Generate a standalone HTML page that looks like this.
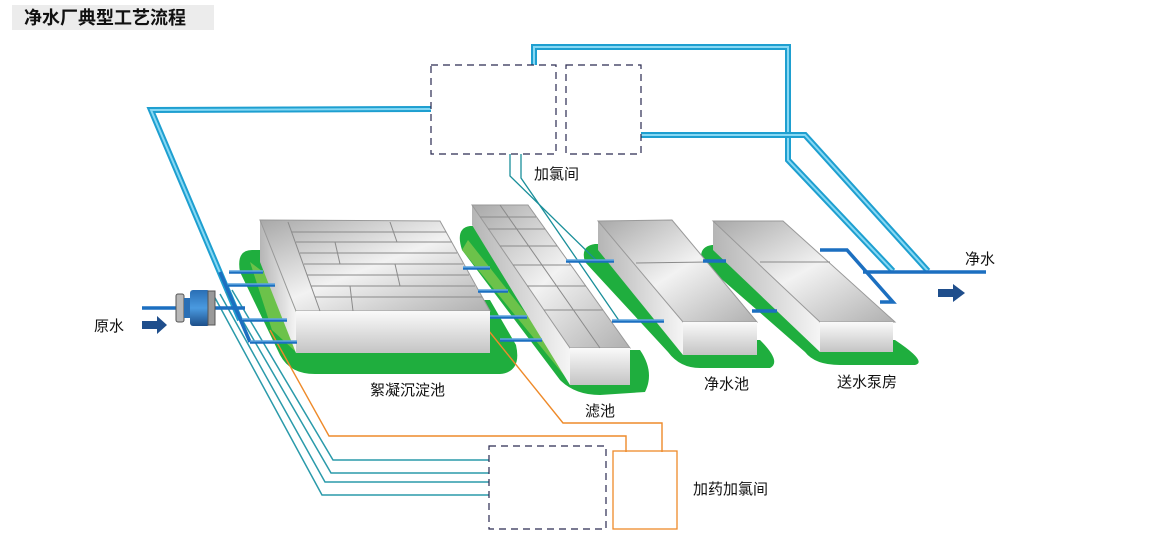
<!DOCTYPE html>
<html><head><meta charset="utf-8"><style>
html,body{margin:0;padding:0;background:#fff;}
svg{display:block;}
text{font-family:"Liberation Sans","Noto Sans CJK SC",sans-serif;font-size:15px;fill:#111;}
</style></head><body>
<svg width="1152" height="549" viewBox="0 0 1152 549" xmlns="http://www.w3.org/2000/svg">
<defs>
<linearGradient id="top" x1="0" y1="0" x2="1" y2="1"><stop offset="0" stop-color="#a8a8a8"/><stop offset="0.5" stop-color="#f2f2f2"/><stop offset="1" stop-color="#b0b0b0"/></linearGradient>
<linearGradient id="front" x1="0" y1="0" x2="0" y2="1"><stop offset="0" stop-color="#fafafa"/><stop offset="1" stop-color="#c4c4c4"/></linearGradient>
<linearGradient id="side" x1="0" y1="0" x2="1" y2="0"><stop offset="0" stop-color="#b5b5b5"/><stop offset="1" stop-color="#f5f5f5"/></linearGradient>
<linearGradient id="pump" x1="0" y1="0" x2="0" y2="1"><stop offset="0" stop-color="#2a6fb5"/><stop offset="0.5" stop-color="#4a9ae0"/><stop offset="1" stop-color="#1d4f8a"/></linearGradient>
</defs>
<rect x="12" y="5" width="202" height="25" fill="#ececec"/>
<text x="24" y="24" style="font-size:18px;font-weight:bold">净水厂典型工艺流程</text>

<!-- green pads -->
<path d="M252,250 L275,250 L300,300 L490,300 L516,345 Q522,372 500,374 L315,374 Q290,374 280,355 L240,272 Q236,250 252,250 Z" fill="#1fae3e"/>
<path d="M470,226 L485,226 L590,350 L640,350 Q655,372 645,392 L600,395 Q575,395 560,380 L462,250 Q455,228 470,226 Z" fill="#1fae3e"/>
<path d="M595,244 L610,244 L700,340 L760,340 Q782,362 770,368 L700,368 Q680,368 668,352 L585,262 Q580,246 595,244 Z" fill="#1fae3e"/>
<path d="M712,245 L725,245 L830,340 L895,340 Q928,362 915,365 L840,365 Q815,365 805,352 L702,262 Q698,247 712,245 Z" fill="#1fae3e"/>
<path d="M250,262 L300,300 L296,352 L272,330 Z" fill="#6cc24a"/>
<path d="M468,240 L572,372 L572,385 L462,250 Z" fill="#6cc24a"/>

<!-- left pipe -->
<g fill="none" stroke-linejoin="miter">
<path d="M431,109 L151,110 L240,320" stroke="#1e9fd0" stroke-width="6"/>
<path d="M431,109 L151,110 L240,320" stroke="#86d8f4" stroke-width="2"/>
<path d="M534,65 L534,47 L788,47 L788,160 L893,271" stroke="#1e9fd0" stroke-width="6"/>
<path d="M534,65 L534,47 L788,47 L788,160 L893,271" stroke="#86d8f4" stroke-width="2"/>
<path d="M641,135 L805,135 L928,271" stroke="#1e9fd0" stroke-width="6"/>
<path d="M641,135 L805,135 L928,271" stroke="#86d8f4" stroke-width="2"/>
</g>

<!-- teal lines from chlorine -->
<path d="M510,154 L510,176 L598,262" fill="none" stroke="#1a8f9a" stroke-width="1.3"/>
<path d="M521,154 L521,178 L620,322" fill="none" stroke="#1a8f9a" stroke-width="1.3"/>

<!-- teal lines left to bottom box -->
<g fill="none" stroke="#2a9aaa" stroke-width="1.5">
<path d="M232,290 L333,460 L489,460"/>
<path d="M226,292 L331,473 L489,473"/>
<path d="M220,294 L325,482 L489,482"/>
<path d="M214,296 L322,495 L489,495"/>
</g>
<!-- orange lines -->
<path d="M270,330 L329,436 L626,436 L626,452" fill="none" stroke="#ee8a2a" stroke-width="1.4"/>
<path d="M480,320 L563,423 L662,423 L662,452" fill="none" stroke="#ee8a2a" stroke-width="1.4"/>

<!-- flocculation tank -->
<polygon points="260,220 296,312 296,353 260,262" fill="url(#side)"/>
<polygon points="260,220 440,221 490,311 296,311" fill="url(#top)" stroke="#999" stroke-width="1"/>
<rect x="296" y="311" width="194" height="42" fill="url(#front)"/>
<g stroke="#8a8a8a" stroke-width="1" fill="none">
<path d="M288,222 L320,311"/>
<path d="M292,232 L446,232 M296,242 L452,242 M300,253 L457,253 M304,264 L463,264 M307,275 L469,275 M311,286 L475,286 M315,297 L482,297"/>
<path d="M390,222 L397,242 M335,242 L340,264 M395,264 L400,286 M350,286 L353,311"/>
</g>

<!-- filter -->
<polygon points="472,205 570,348 570,385 472,225" fill="url(#side)"/>
<polygon points="472,205 528,205 630,348 570,348" fill="url(#top)" stroke="#999" stroke-width="1"/>
<rect x="570" y="348" width="60" height="37" fill="url(#front)"/>
<g stroke="#8a8a8a" stroke-width="1" fill="none">
<path d="M500,205 L600,348"/>
<path d="M480,217 L536,217 M488,229 L545,229 M500,246 L557,246 M513,265 L571,265 M527,286 L586,286 M544,310 L603,310"/>
</g>

<!-- clean water pool -->
<polygon points="598,221 683,322 683,355 598,250" fill="url(#side)"/>
<polygon points="598,221 672,220 757,322 683,322" fill="url(#top)" stroke="#999" stroke-width="1"/>
<rect x="683" y="322" width="74" height="33" fill="url(#front)"/>
<path d="M636,263 L708,262" stroke="#8a8a8a"/>

<!-- pump house -->
<polygon points="713,221 820,322 820,352 713,250" fill="url(#side)"/>
<polygon points="713,221 783,221 895,322 820,322" fill="url(#top)" stroke="#999" stroke-width="1"/>
<rect x="820" y="322" width="73" height="30" fill="url(#front)"/>
<path d="M760,262 L830,262" stroke="#8a8a8a"/>

<!-- blue pipes -->
<g fill="none" stroke="#1c6fc0" stroke-width="3.5">
<path d="M220,272 L250,342 M229,272 L263,272 M228,285 L275,285 M242,320 L287,320 M250,342 L297,342"/>
<path d="M142,308 L176,308 M213,308 L245,308"/>
<path d="M463,268 L490,268 M478,291 L508,291 M490,317 L527,317 M500,340 L542,340"/>
<path d="M566,261 L614,261 M612,321 L664,321 M703,261 L726,261 M752,311 L777,311"/>
<path d="M820,250 L847,250 L893,302 L880,302"/>
<path d="M863,272 L986,272"/>
</g>
<g fill="none" stroke="#7fc0ef" stroke-width="1">
<path d="M229,271 L263,271 M228,284 L275,284 M242,319 L287,319 M250,341 L297,341 M463,267 L490,267 M478,290 L508,290 M490,316 L527,316 M500,339 L542,339 M566,260 L614,260 M612,320 L664,320"/>
</g>

<!-- pump -->
<rect x="176" y="294" width="8" height="28" rx="2" fill="#b8b8b8" stroke="#555" stroke-width="1"/>
<rect x="184" y="298" width="6" height="20" fill="#2a6fb5"/>
<rect x="190" y="290" width="20" height="36" rx="3" fill="url(#pump)"/>
<rect x="208" y="291" width="7" height="34" fill="#999" stroke="#555" stroke-width="1"/>

<!-- arrows -->
<polygon points="142,321 157,321 157,316 167,325 157,334 157,329 142,329" fill="#1f4e8c"/>
<polygon points="938,289 953,289 953,284 965,293 953,302 953,297 938,297" fill="#1f4e8c"/>

<!-- dashed boxes -->
<g fill="none" stroke="#2a2a50" stroke-width="1.2" stroke-dasharray="7,5">
<rect x="431" y="65" width="125" height="89"/>
<rect x="566" y="65" width="75" height="89"/>
<rect x="489" y="446" width="117" height="83"/>
</g>
<rect x="613" y="451" width="64" height="78" fill="none" stroke="#ee8a2a" stroke-width="1.3"/>

<!-- labels -->
<text x="534" y="179">加氯间</text>
<text x="370" y="395">絮凝沉淀池</text>
<text x="585" y="416">滤池</text>
<text x="704" y="389">净水池</text>
<text x="837" y="387">送水泵房</text>
<text x="94" y="331">原水</text>
<text x="965" y="264">净水</text>
<text x="693" y="494">加药加氯间</text>
</svg>
</body></html>
